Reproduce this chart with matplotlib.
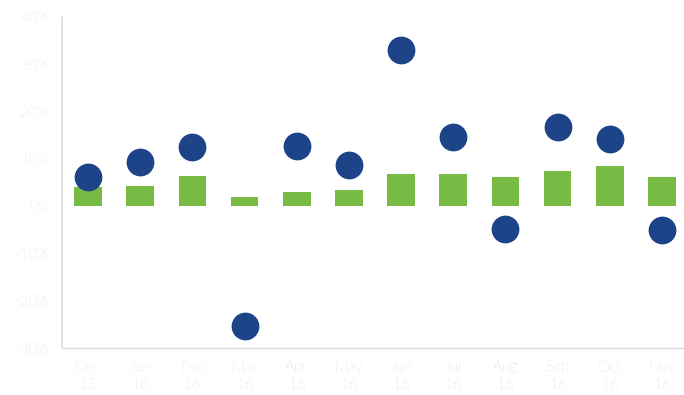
import matplotlib
matplotlib.use("Agg")
import matplotlib.pyplot as plt
from matplotlib.ticker import FuncFormatter

months = ["Dec\n15", "Jan\n16", "Feb\n16", "Mar\n16", "Apr\n16", "May\n16",
          "Jun\n16", "Jul\n16", "Aug\n16", "Sep\n16", "Oct\n16", "Nov\n16"]
bar_values = [4.0, 4.3, 6.4, 1.9, 2.9, 3.5, 6.8, 6.8, 6.1, 7.4, 8.4, 6.1]
dot_values = [6.1, 9.3, 12.6, -25.3, 12.8, 8.8, 33.0, 14.7, -4.8, 16.7, 14.2, -5.0]
y_ticks = [-30, -20, -10, 0, 10, 20, 30, 40]

green = "#77bb44"
blue = "#1d4489"
label_grey = "#c4c4c4"
axis_grey = "#dcdcdc"

plt.rcParams["font.family"] = ["Lato", "DejaVu Sans"]

fig = plt.figure(figsize=(6.84, 3.95), dpi=100)
ax = fig.add_axes([62 / 684, 47 / 395, 626 / 684, 331 / 395])

x = list(range(len(months)))
ax.bar(x, bar_values, width=0.53, color=green, zorder=2)
ax.scatter(x, dot_values, s=400, color=blue, zorder=3, linewidths=0)

ax.set_xlim(-0.5, len(months) - 0.5)
ax.set_ylim(-30, 40)
ax.set_yticks(y_ticks)
ax.yaxis.set_major_formatter(FuncFormatter(lambda v, _: f"{v:.0f}%"))
ax.set_xticks(x)
ax.set_xticklabels(months, linespacing=1.3)
for lbl in ax.get_xticklabels() + ax.get_yticklabels():
    lbl.set_fontweight("light")

for side in ("top", "right"):
    ax.spines[side].set_visible(False)
ax.spines["left"].set_color(axis_grey)
ax.spines["bottom"].set_color(axis_grey)
ax.spines["left"].set_linewidth(1.2)
ax.spines["bottom"].set_linewidth(1.0)

ax.tick_params(axis="y", length=0, pad=9, labelsize=11, labelcolor=label_grey)
ax.tick_params(axis="x", length=0, pad=9, labelsize=11, labelcolor=label_grey)

fig.savefig("out.png", dpi=100, facecolor="white")
